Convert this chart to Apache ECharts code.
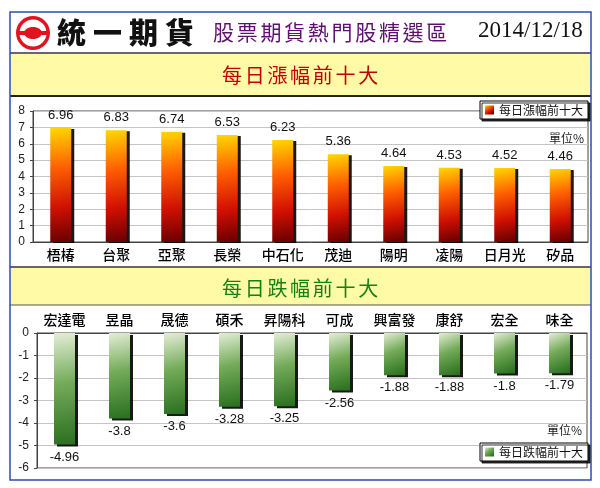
<!DOCTYPE html>
<html>
<head>
<meta charset="utf-8">
<script src="https://cdn.jsdelivr.net/npm/echarts@6/dist/echarts.min.js"></script>
<style>
  html, body { margin: 0; padding: 0; background: #fff; }
  #chart { width: 600px; height: 488px; }
</style>
</head>
<body>
<div id="chart"></div>
<script>
// 漲幅前十大
var upNames = ['梧椿', '台聚', '亞聚', '長榮', '中石化', '茂迪', '陽明', '凌陽', '日月光', '矽品']
var upValues = [6.96, 6.83, 6.74, 6.53, 6.23, 5.36, 4.64, 4.53, 4.52, 4.46]
// 跌幅前十大
var downNames = ['宏達電', '昱晶', '晟德', '碩禾', '昇陽科', '可成', '興富發', '康舒', '宏全', '味全']
var downValues = [-4.96, -3.8, -3.6, -3.28, -3.25, -2.56, -1.88, -1.88, -1.8, -1.79]

var cjk = '"Noto Sans CJK TC", "Noto Sans CJK SC", sans-serif'
var num = '"Liberation Sans Narrow", "Liberation Sans", Arial, sans-serif'

var redFill = new echarts.graphic.LinearGradient(0, 0, 0.7, 1, [
  { offset: 0, color: '#ffd800' },
  { offset: 0.35, color: '#ff6000' },
  { offset: 0.7, color: '#d01000' },
  { offset: 1, color: '#6a0000' }
])
var greenFill = new echarts.graphic.LinearGradient(0, 0, 0.8, 1, [
  { offset: 0, color: '#e4eed6' },
  { offset: 0.45, color: '#74ab5a' },
  { offset: 1, color: '#2a7020' }
])

// 逐字排放（加寬字距）
function spaced (text, x0, step, cy, font, fill) {
  return text.split('').map(function (ch, i) {
    return {
      type: 'text', x: x0 + i * step, y: cy,
      style: { text: ch, font: font, fill: fill, verticalAlign: 'middle' }
    }
  })
}

var graphics = [
  // 黃色標題帶
  { type: 'rect', z: -10, shape: { x: 11, y: 54, width: 579, height: 41 }, style: { fill: '#fffaa6' } },
  { type: 'rect', z: -10, shape: { x: 11, y: 268, width: 579, height: 37 }, style: { fill: '#fffaa6' } },
  // 分隔線
  { type: 'line', shape: { x1: 10, y1: 53, x2: 591, y2: 53 }, style: { stroke: '#334', lineWidth: 1.5 } },
  { type: 'line', shape: { x1: 10, y1: 96, x2: 591, y2: 96 }, style: { stroke: '#222', lineWidth: 2 } },
  { type: 'line', shape: { x1: 10, y1: 267, x2: 591, y2: 267 }, style: { stroke: '#333', lineWidth: 1.5 } },
  { type: 'line', shape: { x1: 10, y1: 305, x2: 591, y2: 305 }, style: { stroke: '#555', lineWidth: 1 } },
  // 外框
  { type: 'rect', shape: { x: 10, y: 12, width: 581, height: 468 }, style: { fill: null, stroke: '#2a4fb0', lineWidth: 1.5 } },
  // 標誌
  { type: 'circle', shape: { cx: 33, cy: 33, r: 17 }, style: { fill: '#e0141e' } },
  { type: 'circle', shape: { cx: 33, cy: 33, r: 13.5 }, style: { fill: '#fff' } },
  { type: 'rect', shape: { x: 19, y: 31, width: 28, height: 4 }, style: { fill: '#e0141e' } },
  { type: 'ellipse', shape: { cx: 33, cy: 33, rx: 9, ry: 6 }, style: { fill: '#e0141e' } },
  {
    type: 'text', left: 478, top: 19,
    style: { text: '2014/12/18', font: '23px "Liberation Serif", "DejaVu Serif", serif', fill: '#111' }
  },
  {
    type: 'text', x: 584, y: 138,
    style: { text: '單位%', font: '12px ' + cjk, fill: '#222', align: 'right', verticalAlign: 'middle' }
  },
  {
    type: 'text', x: 582, y: 430,
    style: { text: '單位%', font: '12px ' + cjk, fill: '#222', align: 'right', verticalAlign: 'middle' }
  }
]
graphics = graphics
  .concat(spaced('統一期貨', 57, 36, 33, '900 29px ' + cjk, '#111'))
  .concat(spaced('股票期貨熱門股精選區', 213, 23.7, 32, '21px ' + cjk, '#5e1070'))
  .concat(spaced('每日漲幅前十大', 222, 22.7, 75, '20px ' + cjk, '#c00000'))
  .concat(spaced('每日跌幅前十大', 222, 22.7, 288, '20px ' + cjk, '#158015'))

var chart = echarts.init(document.getElementById('chart'))
chart.setOption({
  animation: false,
  backgroundColor: '#fff',
  legend: [
    {
      data: ['每日漲幅前十大'],
      left: 480, top: 101,
      padding: [3, 5],
      itemWidth: 9, itemHeight: 9,
      icon: 'rect',
      backgroundColor: '#fff',
      borderColor: '#000', borderWidth: 1,
      shadowColor: 'rgba(0,0,0,0.8)', shadowOffsetX: 2, shadowOffsetY: 2,
      textStyle: { fontFamily: cjk, fontSize: 12, color: '#111' }
    },
    {
      data: ['每日跌幅前十大'],
      left: 480, top: 443,
      padding: [3, 5],
      itemWidth: 9, itemHeight: 9,
      icon: 'rect',
      backgroundColor: '#fff',
      borderColor: '#000', borderWidth: 1,
      shadowColor: 'rgba(0,0,0,0.8)', shadowOffsetX: 2, shadowOffsetY: 2,
      textStyle: { fontFamily: cjk, fontSize: 12, color: '#111' }
    }
  ],
  grid: [
    { left: 33, right: 12, top: 111, bottom: 246, show: true, borderColor: '#444', borderWidth: 1 },
    { left: 37, right: 13, top: 333, bottom: 20, show: true, borderColor: '#444', borderWidth: 1 }
  ],
  xAxis: [
    {
      gridIndex: 0, type: 'category', data: upNames,
      axisLine: { lineStyle: { color: '#444' } },
      axisTick: { show: false },
      axisLabel: { fontFamily: cjk, fontSize: 14, fontWeight: 500, color: '#000', margin: 6 }
    },
    {
      gridIndex: 1, type: 'category', data: downNames, position: 'top',
      axisLine: { lineStyle: { color: '#444' } },
      axisTick: { show: false },
      axisLabel: { fontFamily: cjk, fontSize: 14, fontWeight: 500, color: '#000', margin: 6 }
    }
  ],
  yAxis: [
    {
      gridIndex: 0, type: 'value', min: 0, max: 8, interval: 1,
      axisLine: { show: true, lineStyle: { color: '#444' } },
      axisTick: { show: true, length: 3, lineStyle: { color: '#444' } },
      axisLabel: { fontFamily: num, fontSize: 12, color: '#222', margin: 8 },
      splitLine: { lineStyle: { color: '#c4c4c4' } }
    },
    {
      gridIndex: 1, type: 'value', min: -6, max: 0, interval: 1,
      axisLine: { show: true, lineStyle: { color: '#444' } },
      axisTick: { show: true, length: 3, lineStyle: { color: '#444' } },
      axisLabel: { fontFamily: num, fontSize: 12, color: '#222', margin: 8 },
      splitLine: { lineStyle: { color: '#c4c4c4' } }
    }
  ],
  series: [
    {
      name: '每日漲幅前十大', type: 'bar', xAxisIndex: 0, yAxisIndex: 0,
      data: upValues, barWidth: 21,
      itemStyle: {
        color: redFill,
        shadowColor: 'rgba(0,0,0,0.9)', shadowOffsetX: 3, shadowOffsetY: 1, shadowBlur: 0
      },
      label: {
        show: true, position: 'top', distance: 6,
        fontFamily: num, fontSize: 13, color: '#111'
      }
    },
    {
      name: '每日跌幅前十大', type: 'bar', xAxisIndex: 1, yAxisIndex: 1,
      data: downValues, barWidth: 21,
      itemStyle: {
        color: greenFill,
        shadowColor: 'rgba(0,0,0,0.9)', shadowOffsetX: 3, shadowOffsetY: 2, shadowBlur: 0
      },
      label: {
        show: true, position: 'bottom', distance: 6,
        fontFamily: num, fontSize: 13, color: '#111'
      }
    }
  ],
  graphic: graphics
})
</script>
</body>
</html>
